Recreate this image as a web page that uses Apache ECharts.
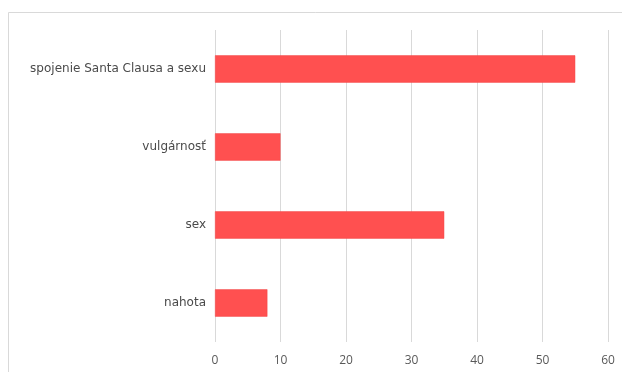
<!DOCTYPE html>
<html>
<head>
<meta charset="utf-8">
<script src="https://cdn.jsdelivr.net/npm/echarts@6/dist/echarts.min.js"></script>
<style>
  html, body { margin: 0; padding: 0; background: #fff; }
  #chart { width: 622px; height: 372px; }
</style>
</head>
<body>
<div id="chart"></div>
<script>
// Categories listed bottom-to-top, as a category y-axis draws them
const categories = ['nahota', 'sex', 'vulgárnosť', 'spojenie Santa Clausa a sexu'];
const values = [8, 35, 10, 55];
const xTicks = { min: 0, max: 60, interval: 10 };

const chart = echarts.init(document.getElementById('chart'));
chart.setOption({
  animation: false,
  backgroundColor: '#ffffff',
  graphic: [{
    type: 'rect',
    shape: { x: 8.5, y: 12.5, width: 640, height: 400 },
    style: { fill: 'none', stroke: '#d9d9d9', lineWidth: 1 },
    silent: true
  }],
  grid: { left: 215, right: 14, top: 30, bottom: 30, containLabel: false },
  xAxis: {
    type: 'value',
    min: xTicks.min,
    max: xTicks.max,
    interval: xTicks.interval,
    axisLine: { show: false },
    axisTick: { show: false },
    splitLine: { show: true, lineStyle: { color: '#d9d9d9', width: 1 } },
    axisLabel: { color: '#595959', fontFamily: 'Open Sans', fontSize: 12, margin: 13 }
  },
  yAxis: {
    type: 'category',
    data: categories,
    axisLine: { show: false },
    axisTick: { show: false },
    axisLabel: { color: '#4a4a4a', fontFamily: 'DejaVu Sans', fontSize: 12, margin: 9 }
  },
  series: [{
    type: 'bar',
    data: values,
    barWidth: '35%',
    itemStyle: { color: '#ff5050', borderColor: '#f04848', borderWidth: 0.5 }
  }]
});
</script>
</body>
</html>
